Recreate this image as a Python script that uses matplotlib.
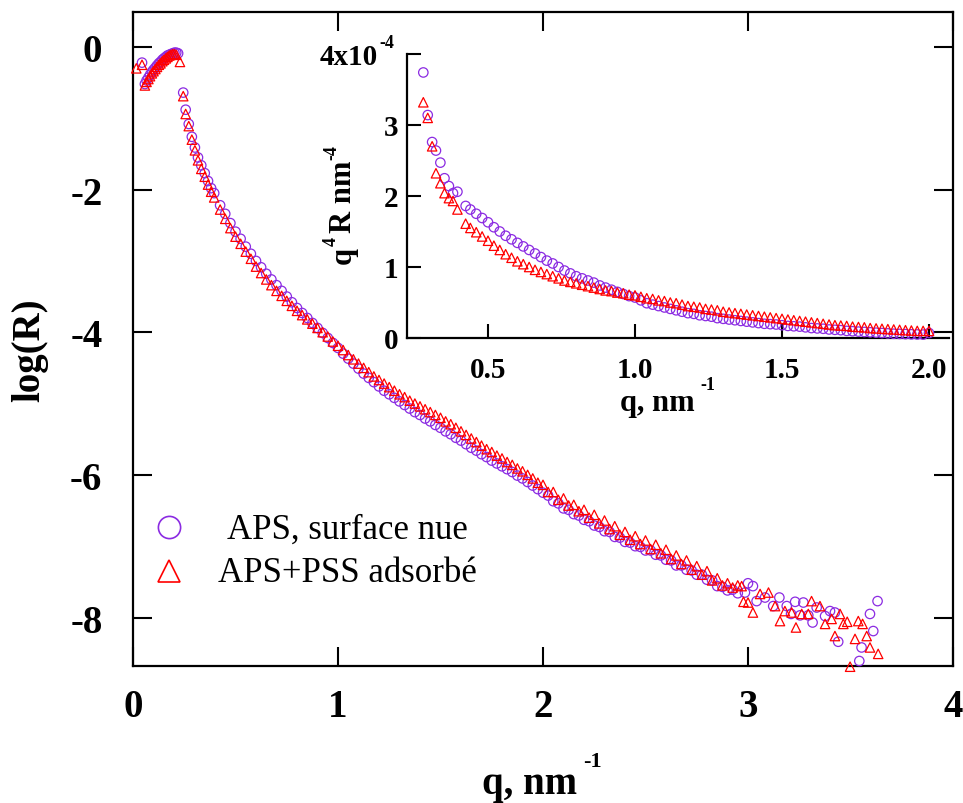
import matplotlib
matplotlib.use("Agg")
import matplotlib.pyplot as plt

plt.rcParams['axes.unicode_minus'] = False
plt.rcParams['font.family'] = ['Liberation Serif', 'DejaVu Serif']
plt.rcParams['font.weight'] = 'bold'

# ---------------- main panel data: log(R) vs q (nm^-1) ----------------
q_plateau_aps = [0.044, 0.058, 0.066, 0.075, 0.083, 0.092, 0.100, 0.109, 0.117, 0.126,
                 0.134, 0.143, 0.151, 0.160, 0.168, 0.177, 0.185, 0.194, 0.202, 0.211, 0.220]
logr_plateau_aps = [-0.22, -0.52, -0.47, -0.43, -0.39, -0.35, -0.32, -0.29, -0.26, -0.23,
                    -0.21, -0.18, -0.16, -0.14, -0.12, -0.11, -0.10, -0.09, -0.08, -0.08, -0.09]

q_plateau_pss = [0.016, 0.044, 0.058, 0.066, 0.075, 0.083, 0.092, 0.100, 0.109, 0.117, 0.126,
                 0.134, 0.143, 0.151, 0.160, 0.168, 0.177, 0.185, 0.194, 0.202, 0.211, 0.229]
logr_plateau_pss = [-0.30, -0.25, -0.54, -0.49, -0.45, -0.41, -0.37, -0.34, -0.31, -0.28, -0.25,
                    -0.23, -0.20, -0.18, -0.16, -0.14, -0.12, -0.11, -0.10, -0.10, -0.11, -0.21]

q_decay = [0.245, 0.257, 0.272, 0.287, 0.302, 0.317, 0.333, 0.350, 0.366, 0.381, 0.396,
           0.425, 0.450, 0.475, 0.500, 0.525, 0.550, 0.575, 0.600, 0.625, 0.650,
           0.675, 0.700, 0.725, 0.750, 0.775, 0.800, 0.825, 0.850, 0.875, 0.900,
           0.925, 0.950, 0.975, 1.000, 1.025, 1.050, 1.075, 1.100, 1.125, 1.150,
           1.175, 1.200, 1.225, 1.250, 1.275, 1.300, 1.325, 1.350, 1.375, 1.400,
           1.425, 1.450, 1.475, 1.500, 1.525, 1.550, 1.575, 1.600, 1.625, 1.650,
           1.675, 1.700, 1.725, 1.750, 1.775, 1.800, 1.825, 1.850, 1.875, 1.900,
           1.925, 1.950, 1.975, 2.000, 2.025, 2.050, 2.075, 2.100, 2.125, 2.150,
           2.175, 2.200, 2.225, 2.250, 2.275, 2.300, 2.325, 2.350, 2.375, 2.400,
           2.425, 2.450, 2.475, 2.500, 2.525, 2.550, 2.575, 2.600, 2.625, 2.650,
           2.675, 2.700, 2.725, 2.750, 2.775, 2.800, 2.825, 2.850, 2.875, 2.900,
           2.925, 2.950]

logr_decay_aps = [-0.64, -0.88, -1.08, -1.26, -1.41, -1.55, -1.66, -1.77, -1.88, -1.98, -2.05,
                  -2.22, -2.34, -2.47, -2.59, -2.69, -2.80, -2.90, -3.00, -3.09, -3.18,
                  -3.26, -3.34, -3.42, -3.50, -3.58, -3.66, -3.73, -3.80, -3.87, -3.94,
                  -4.01, -4.08, -4.15, -4.22, -4.30, -4.37, -4.44, -4.51, -4.58, -4.64,
                  -4.70, -4.76, -4.82, -4.87, -4.92, -4.97, -5.02, -5.07, -5.12, -5.16,
                  -5.21, -5.25, -5.30, -5.34, -5.39, -5.43, -5.48, -5.52, -5.57, -5.62,
                  -5.66, -5.71, -5.75, -5.80, -5.84, -5.88, -5.92, -5.96, -6.01, -6.05,
                  -6.10, -6.15, -6.20, -6.25, -6.29, -6.37, -6.40, -6.47, -6.49, -6.55,
                  -6.57, -6.63, -6.65, -6.71, -6.73, -6.79, -6.80, -6.87, -6.88, -6.94,
                  -6.95, -7.00, -7.01, -7.06, -7.06, -7.12, -7.13, -7.19, -7.20, -7.27,
                  -7.27, -7.33, -7.34, -7.40, -7.40, -7.47, -7.48, -7.56, -7.57, -7.62,
                  -7.61, -7.66]

logr_decay_pss = [-0.69, -0.94, -1.11, -1.30, -1.45, -1.59, -1.71, -1.82, -1.93, -2.03, -2.11,
                  -2.28, -2.41, -2.54, -2.66, -2.76, -2.87, -2.97, -3.08, -3.17, -3.26,
                  -3.34, -3.42, -3.49, -3.56, -3.63, -3.70, -3.76, -3.82, -3.88, -3.94,
                  -4.00, -4.06, -4.13, -4.19, -4.25, -4.32, -4.38, -4.44, -4.50, -4.56,
                  -4.62, -4.67, -4.72, -4.77, -4.82, -4.87, -4.91, -4.96, -5.00, -5.04,
                  -5.08, -5.12, -5.16, -5.20, -5.25, -5.29, -5.34, -5.39, -5.44, -5.49,
                  -5.54, -5.59, -5.64, -5.68, -5.73, -5.77, -5.82, -5.86, -5.91, -5.95,
                  -6.00, -6.05, -6.11, -6.14, -6.24, -6.24, -6.35, -6.33, -6.43, -6.42,
                  -6.51, -6.49, -6.60, -6.56, -6.68, -6.64, -6.76, -6.72, -6.84, -6.80,
                  -6.91, -6.86, -6.97, -6.92, -7.04, -6.98, -7.10, -7.05, -7.18, -7.13,
                  -7.25, -7.20, -7.33, -7.28, -7.40, -7.35, -7.48, -7.45, -7.55, -7.52,
                  -7.58, -7.55]

q_tail_aps = [2.985, 3.000, 3.024, 3.042, 3.083, 3.123, 3.153, 3.189, 3.210, 3.230, 3.254,
              3.270, 3.294, 3.315, 3.335, 3.376, 3.400, 3.424, 3.440, 3.543, 3.554, 3.595,
              3.611, 3.632]
logr_tail_aps = [-7.65, -7.52, -7.56, -7.77, -7.72, -7.84, -7.72, -7.84, -7.95, -7.78, -7.97,
                 -7.79, -7.97, -8.07, -7.86, -7.98, -7.91, -7.93, -8.34, -8.61, -8.42, -7.95,
                 -8.19, -7.77]

q_tail_pss = [2.969, 2.978, 3.000, 3.024, 3.059, 3.100, 3.132, 3.156, 3.180, 3.213, 3.234,
              3.262, 3.294, 3.310, 3.351, 3.376, 3.408, 3.424, 3.449, 3.465, 3.484, 3.498,
              3.522, 3.538, 3.559, 3.579, 3.595, 3.635]
logr_tail_pss = [-7.56, -7.78, -7.79, -7.93, -7.67, -7.65, -7.84, -8.05, -7.91, -7.93, -8.14,
                 -7.95, -7.95, -7.77, -7.84, -8.09, -8.02, -8.26, -7.95, -8.09, -8.06, -8.69,
                 -8.30, -8.05, -8.09, -8.26, -8.42, -8.51]

# ---------------- inset data: q^4 R (x 1e-4 nm^-4) vs q ----------------
q_inset = [0.280, 0.295, 0.310, 0.323, 0.338, 0.352, 0.367, 0.381, 0.396, 0.424,
           0.44, 0.46, 0.48, 0.50, 0.52, 0.54, 0.56, 0.58, 0.60, 0.62,
           0.64, 0.66, 0.68, 0.70, 0.72, 0.74, 0.76, 0.78, 0.80, 0.82,
           0.84, 0.86, 0.88, 0.90, 0.92, 0.94, 0.96, 0.98, 1.00, 1.02,
           1.04, 1.06, 1.08, 1.10, 1.12, 1.14, 1.16, 1.18, 1.20, 1.22,
           1.24, 1.26, 1.28, 1.30, 1.32, 1.34, 1.36, 1.38, 1.40, 1.42,
           1.44, 1.46, 1.48, 1.50, 1.52, 1.54, 1.56, 1.58, 1.60, 1.62,
           1.64, 1.66, 1.68, 1.70, 1.72, 1.74, 1.76, 1.78, 1.80, 1.82,
           1.84, 1.86, 1.88, 1.90, 1.92, 1.94, 1.96, 1.98, 2.00]
q4r_aps = [3.74, 3.14, 2.76, 2.64, 2.47, 2.25, 2.14, 2.04, 2.06, 1.86,
           1.81, 1.75, 1.69, 1.63, 1.56, 1.50, 1.44, 1.39, 1.34, 1.29,
           1.24, 1.19, 1.14, 1.09, 1.05, 1.00, 0.95, 0.91, 0.87, 0.84,
           0.81, 0.78, 0.74, 0.71, 0.68, 0.65, 0.62, 0.59, 0.57, 0.53,
           0.49, 0.47, 0.45, 0.43, 0.41, 0.39, 0.37, 0.35, 0.34, 0.32,
           0.31, 0.30, 0.28, 0.27, 0.26, 0.25, 0.24, 0.23, 0.22, 0.21,
           0.20, 0.195, 0.19, 0.18, 0.17, 0.165, 0.16, 0.15, 0.14, 0.135,
           0.13, 0.12, 0.115, 0.11, 0.10, 0.095, 0.09, 0.085, 0.08, 0.075,
           0.07, 0.065, 0.06, 0.058, 0.055, 0.052, 0.05, 0.048, 0.07]
q4r_pss = [3.32, 3.10, 2.70, 2.32, 2.18, 2.04, 1.97, 1.93, 1.81, 1.61,
           1.55, 1.49, 1.43, 1.37, 1.30, 1.24, 1.18, 1.13, 1.08, 1.04,
           1.00, 0.96, 0.93, 0.90, 0.87, 0.84, 0.81, 0.79, 0.77, 0.75,
           0.73, 0.71, 0.69, 0.67, 0.66, 0.64, 0.63, 0.61, 0.60, 0.58,
           0.56, 0.55, 0.53, 0.52, 0.50, 0.49, 0.47, 0.45, 0.44, 0.43,
           0.41, 0.40, 0.39, 0.37, 0.36, 0.35, 0.34, 0.33, 0.32, 0.31,
           0.30, 0.29, 0.28, 0.27, 0.26, 0.25, 0.24, 0.23, 0.22, 0.21,
           0.20, 0.19, 0.18, 0.175, 0.17, 0.16, 0.155, 0.15, 0.14, 0.135,
           0.13, 0.125, 0.12, 0.115, 0.11, 0.105, 0.10, 0.10, 0.10]

x_ticks = [0, 1, 2, 3, 4]
y_ticks = [0, -2, -4, -6, -8]
y_tick_labels = ['0', '-2', '-4', '-6', '-8']
inset_x_ticks = [0.5, 1.0, 1.5, 2.0]
inset_x_labels = ['0.5', '1.0', '1.5', '2.0']
inset_y_ticks = [0, 1, 2, 3, 4]
inset_y_labels = ['0', '1', '2', '3', '']
legend_labels = ['APS, surface nue', 'APS+PSS adsorbé']

PURPLE = '#8B2BE2'
RED = '#FF0000'

W, H = 963, 804
fig = plt.figure(figsize=(W / 100, H / 100), dpi=100)


def fx(x):
    return x / W


def fy(y):
    return 1 - y / H


ax = fig.add_axes([fx(133), fy(667), fx(953) - fx(133), fy(13) - fy(667)])
ms = 46
ax.scatter(q_plateau_aps + q_decay + q_tail_aps,
           logr_plateau_aps + logr_decay_aps + logr_tail_aps,
           s=ms, marker='o', facecolors='none', edgecolors=PURPLE, linewidths=0.9,
           clip_on=False, zorder=3)
ax.scatter(q_plateau_pss + q_decay + q_tail_pss,
           logr_plateau_pss + logr_decay_pss + logr_tail_pss,
           s=ms, marker='^', facecolors='none', edgecolors=RED, linewidths=0.9,
           clip_on=False, zorder=3)

ax.set_xlim(0, 4)
ax.set_ylim(-8.68, 0.49)
ax.set_xticks(x_ticks)
ax.set_xticklabels([str(t) for t in x_ticks])
ax.set_yticks(y_ticks)
ax.set_yticklabels(y_tick_labels)
ax.minorticks_off()
ax.tick_params(direction='in', length=13.7, width=1.5, top=True, right=True,
               labelsize=28)
ax.tick_params(axis='x', pad=16)
ax.tick_params(axis='y', pad=22)
for sp in ax.spines.values():
    sp.set_linewidth(1.6)

# axis labels
fig.text(fx(30), fy(350), 'log(R)', rotation=90, ha='center', va='center',
         fontsize=28, fontweight='bold')
fig.text(fx(482), fy(794), 'q, nm', ha='left', va='baseline', fontsize=28,
         fontweight='bold')
fig.text(fx(583), fy(767), '-1', ha='left', va='baseline', fontsize=16,
         fontweight='bold')

# legend
ax.plot([0.0439], [0.2125], transform=ax.transAxes, marker='o', ms=16,
        mfc='none', mec=PURPLE, mew=1.2, ls='none', clip_on=False)
ax.plot([0.0439], [0.1457], transform=ax.transAxes, marker='^', ms=16,
        mfc='none', mec=RED, mew=1.2, ls='none', clip_on=False)
ax.text(0.261, 0.1957, legend_labels[0], transform=ax.transAxes, ha='center',
        va='baseline', fontsize=25, fontweight='normal')
ax.text(0.261, 0.130, legend_labels[1], transform=ax.transAxes, ha='center',
        va='baseline', fontsize=25, fontweight='normal')

# ---------------- inset ----------------
axin = fig.add_axes([fx(407), fy(339), fx(949) - fx(407), fy(55) - fy(339)])
axin.set_facecolor('none')
axin.scatter(q_inset, q4r_aps, s=ms, marker='o', facecolors='none',
             edgecolors=PURPLE, linewidths=0.9, clip_on=False, zorder=3)
axin.scatter(q_inset, q4r_pss, s=ms, marker='^', facecolors='none',
             edgecolors=RED, linewidths=0.9, clip_on=False, zorder=3)
axin.set_xlim(0.2245, 2.068)
axin.set_ylim(0, 4)
axin.set_xticks(inset_x_ticks)
axin.set_xticklabels(inset_x_labels)
axin.set_yticks(inset_y_ticks)
axin.set_yticklabels(inset_y_labels)
axin.minorticks_off()
axin.spines['top'].set_visible(False)
axin.spines['right'].set_visible(False)
for sp in ('left', 'bottom'):
    axin.spines[sp].set_linewidth(1.6)
axin.tick_params(direction='in', length=10, width=1.5, labelsize=21)
axin.tick_params(axis='x', pad=13)
axin.tick_params(axis='y', pad=6)

fig.text(fx(320), fy(65), '4x10', ha='left', va='baseline', fontsize=21,
         fontweight='bold')
fig.text(fx(379), fy(48), '-4', ha='left', va='baseline', fontsize=13,
         fontweight='bold')

fig.text(fx(620), fy(411), 'q, nm', ha='left', va='baseline', fontsize=22,
         fontweight='bold')
fig.text(fx(700), fy(390), '-1', ha='left', va='baseline', fontsize=13,
         fontweight='bold')

rk = dict(rotation=90, rotation_mode='anchor', ha='left', va='baseline',
          fontweight='bold')
fig.text(fx(351), fy(264), 'q', fontsize=22, **rk)
fig.text(fx(336), fy(246), '4', fontsize=13, **rk)
fig.text(fx(351), fy(233), 'R nm', fontsize=22, **rk)
fig.text(fx(336), fy(160), '-4', fontsize=13, **rk)

fig.savefig('out.png', dpi=100)
